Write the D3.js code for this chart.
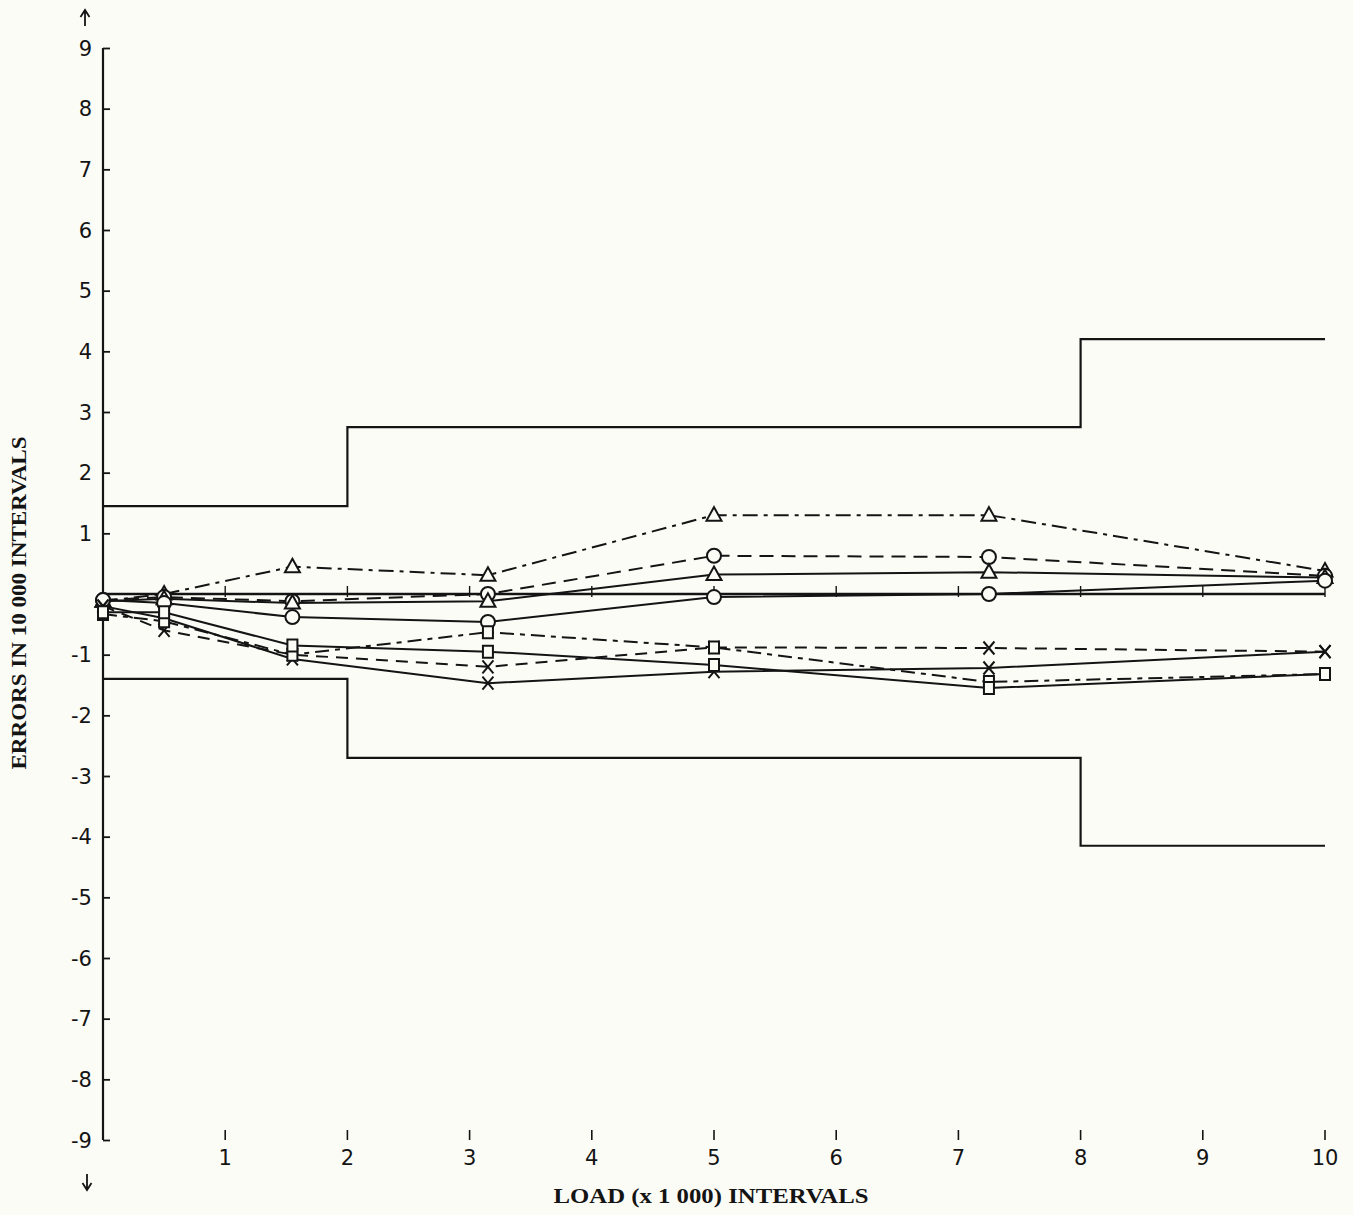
<!DOCTYPE html>
<html><head><meta charset="utf-8">
<script src="https://cdn.jsdelivr.net/npm/d3@7"></script>
<style>body{margin:0;background:#fcfcf7}svg{display:block}</style>
</head><body><svg id="c" width="1353" height="1215"></svg>
<script>
// ---- data ----
const loads = [0, 0.5, 1.55, 3.15, 5, 7.25, 10];
const triDashed  = [-0.12, 0.0, 0.45, 0.31, 1.3, 1.3, 0.38];
const circDashed = [-0.1, -0.05, -0.12, 0.0, 0.63, 0.61, 0.3];
const triSolid   = [-0.12, -0.08, -0.15, -0.12, 0.32, 0.36, 0.27];
const circSolid  = [-0.1, -0.15, -0.38, -0.46, -0.05, 0.0, 0.22];
const xDashed    = [-0.2, -0.6, -1.0, -1.2, -0.88, -0.89, -0.95];
const xSolid     = [-0.2, -0.4, -1.07, -1.47, -1.28, -1.22, -0.95];
const sqDashed   = [-0.33, -0.45, -1.0, -0.63, -0.88, -1.45, -1.32];
const sqSolid    = [-0.3, -0.3, -0.85, -0.95, -1.17, -1.55, -1.32];
const limitX     = [0, 2, 8, 10];
const upperLimit = [1.45, 2.75, 4.2, 4.2];
const lowerLimit = [-1.4, -2.7, -4.15, -4.15];
const yTickValues = [-9,-8,-7,-6,-5,-4,-3,-2,-1,1,2,3,4,5,6,7,8,9];
const xTickValues = [1,2,3,4,5,6,7,8,9,10];
const zeroTicks = [1,2,3,4,5,6,7,8,9,10];
const xTitle = "LOAD (x 1 000) INTERVALS";
const yTitle = "ERRORS IN 10 000 INTERVALS";

// ---- setup ----
const svg = d3.select("#c");
const ink = "#141414";
svg.append("rect").attr("width",1353).attr("height",1215).attr("fill","#fcfcf7");
const x = d3.scaleLinear().domain([0,10]).range([103,1325]);
const y = d3.scaleLinear().domain([-9,9]).range([1140,48]);
const numFont = "DejaVu Sans, Liberation Sans, sans-serif";

// y axis
const yAxis = d3.axisRight(y).tickValues(yTickValues).tickSize(7).tickFormat("");
const ga = svg.append("g").attr("transform",`translate(${x(0)},0)`).call(yAxis);
ga.select(".domain").remove();
ga.selectAll("line").attr("stroke",ink).attr("stroke-width",1.8);
svg.append("line").attr("x1",x(0)).attr("x2",x(0)).attr("y1",y(9)).attr("y2",y(-9))
  .attr("stroke",ink).attr("stroke-width",2.2);
svg.append("g").selectAll("text").data(yTickValues).join("text")
  .attr("x",92).attr("y",d=>y(d)).attr("dy","0.37em").attr("text-anchor","end")
  .attr("font-family",numFont).attr("font-size",21).attr("fill",ink)
  .text(d=> d<0 ? "-" + Math.abs(d) : String(d));

// arrows
svg.append("path").attr("d","M85,26 L85,11 M80.5,17 L85,10 L89.5,17")
  .attr("fill","none").attr("stroke",ink).attr("stroke-width",1.8);
svg.append("path").attr("d","M87,1174 L87,1189 M82.5,1183 L87,1190 L91.5,1183")
  .attr("fill","none").attr("stroke",ink).attr("stroke-width",1.8);

// x axis (ticks + labels only)
const xAxis = d3.axisBottom(x).tickValues(xTickValues).tickSize(0).tickFormat("");
const gx = svg.append("g").attr("transform","translate(0,1130)").call(xAxis);
gx.select(".domain").remove();
svg.append("g").selectAll("line").data(xTickValues).join("line")
  .attr("x1",d=>x(d)).attr("x2",d=>x(d)).attr("y1",1130).attr("y2",1140)
  .attr("stroke",ink).attr("stroke-width",1.6);
svg.append("g").selectAll("text").data(xTickValues).join("text")
  .attr("x",d=>x(d)).attr("y",1165).attr("text-anchor","middle")
  .attr("font-family",numFont).attr("font-size",21).attr("fill",ink)
  .text(d=>String(d));

// titles
svg.append("text").attr("x",711).attr("y",1203).attr("text-anchor","middle")
  .attr("font-family","Liberation Serif, serif").attr("font-weight","bold").attr("font-size",22)
  .attr("textLength",315).attr("lengthAdjust","spacingAndGlyphs").attr("fill",ink).text(xTitle);
svg.append("text").attr("transform","translate(26,603) rotate(-90)").attr("text-anchor","middle")
  .attr("font-family","Liberation Serif, serif").attr("font-weight","bold").attr("font-size",22)
  .attr("textLength",333).attr("lengthAdjust","spacingAndGlyphs").attr("fill",ink).text(yTitle);

// zero line with ticks
svg.append("line").attr("x1",x(0)).attr("x2",x(10)).attr("y1",y(0)).attr("y2",y(0))
  .attr("stroke",ink).attr("stroke-width",2.6);
svg.append("g").selectAll("line").data(zeroTicks).join("line")
  .attr("x1",d=>x(d)).attr("x2",d=>x(d)).attr("y1",y(0)-8).attr("y2",y(0)+3)
  .attr("stroke",ink).attr("stroke-width",1.4);

// limits
const stepLine = d3.line().x(d=>x(d[0])).y(d=>y(d[1])).curve(d3.curveStepAfter);
[upperLimit, lowerLimit].forEach(arr=>{
  svg.append("path").datum(limitX.map((v,i)=>[v,arr[i]])).attr("d",stepLine)
    .attr("fill","none").attr("stroke",ink).attr("stroke-width",2.2);
});

// series
const series = [
  {v:triDashed,  m:"tri",  dash:"15,6,4,6"},
  {v:circDashed, m:"circ", dash:"14,8"},
  {v:triSolid,   m:"tri",  dash:null},
  {v:circSolid,  m:"circ", dash:null},
  {v:xDashed,    m:"x",    dash:"12,8"},
  {v:xSolid,     m:"x",    dash:null},
  {v:sqDashed,   m:"sq",   dash:"14,6,5,6"},
  {v:sqSolid,    m:"sq",   dash:null}
];
const line = d3.line().x(d=>x(d[0])).y(d=>y(d[1]));
series.forEach(s=>{
  svg.append("path").datum(loads.map((l,i)=>[l,s.v[i]])).attr("d",line)
    .attr("fill","none").attr("stroke",ink).attr("stroke-width",2)
    .attr("stroke-dasharray",s.dash);
});
const shapes = {
  tri: "M0,-8 L7.5,5.5 L-7.5,5.5 Z",
  sq: "M-5,-6 L5,-6 L5,6 L-5,6 Z",
  x: "M-5.5,-6.5 L5.5,6.5 M-5.5,6.5 L5.5,-6.5",
  circ: "M7,0 A7,7 0 1,1 -7,0 A7,7 0 1,1 7,0 Z"
};
series.forEach(s=>{
  svg.append("g").selectAll("path").data(loads.map((l,i)=>[l,s.v[i]])).join("path")
    .attr("transform",d=>`translate(${x(d[0])},${y(d[1])})`)
    .attr("d",shapes[s.m])
    .attr("fill", s.m==="x" ? "none" : "#fcfcf7")
    .attr("stroke",ink).attr("stroke-width",2);
});
</script></body></html>
